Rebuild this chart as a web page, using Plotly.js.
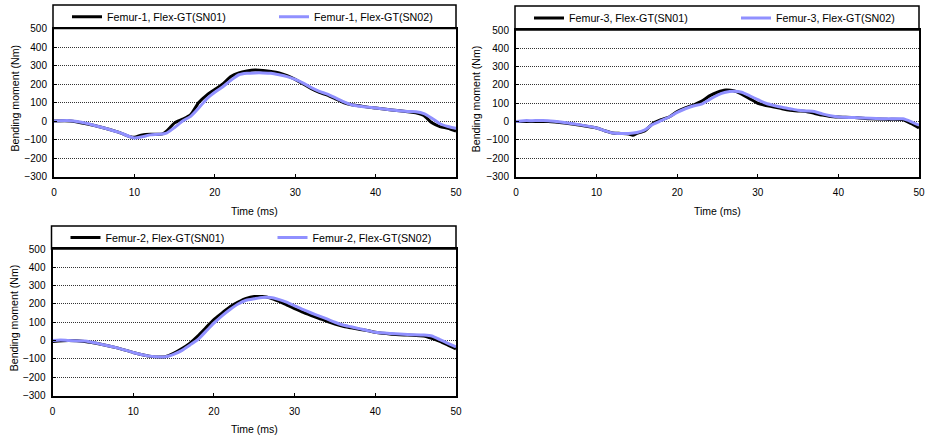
<!DOCTYPE html>
<html>
<head>
<meta charset="utf-8">
<script src="https://cdn.plot.ly/plotly-3.0.1.min.js"></script>
<style>html,body{margin:0;padding:0;background:#fff;}#chart{width:928px;height:435px;}</style>
</head>
<body>
<div id="chart"></div>
<script>
// Time (ms)
const timeF1a = [0,2,4,6,8,9.5,10,11,12,13,13.5,14,15,16,17,18,19,20,21,22,23,24,25,26,27,28,29,30,31,32,33,34,35,36,37,38,39,40,42,44,45,46,47,48,49,50];
const f1_sn01 = [0,0,-15,-35,-60,-85,-88,-75,-72,-72,-70,-55,-10,10,35,100,140,170,200,240,260,270,275,273,268,260,245,225,200,175,155,140,120,100,88,82,75,70,60,50,45,30,-10,-30,-40,-55];
const timeF1b = [0,2,4,6,8,10,11,12,13,14,15,16,17,18,19,20,21,22,23,24,25,26,27,28,29,30,31,32,33,34,35,36,37,38,39,40,42,44,45,46,47,48,49,50];
const f1_sn02 = [0,2,-12,-35,-60,-92,-85,-75,-72,-65,-35,0,25,70,120,155,185,220,250,258,260,260,258,250,240,225,205,180,160,145,125,105,88,80,75,70,60,52,50,40,15,-15,-30,-40];

const timeF3a = [0,2,4,6,8,10,11,12,13,14,14.5,15,16,17,18,19,20,21,22,23,24,25,26,27,28,29,30,31,32,33,34,35,36,37,38,39,40,42,44,46,48,49,50];
const f3_sn01 = [0,0,0,-8,-20,-35,-50,-62,-65,-68,-75,-65,-50,-10,10,25,55,75,90,110,140,160,172,168,150,125,100,88,80,70,62,58,55,45,35,28,25,22,15,12,10,-10,-35];
const timeF3b = [0,1,2,4,6,8,10,11,12,14,15,16,17,18,19,20,21,22,23,24,25,26,27,28,29,30,31,32,33,34,35,36,37,38,39,40,42,44,46,48,49,50];
const f3_sn02 = [0,5,5,5,-5,-18,-35,-50,-62,-65,-60,-45,-15,5,25,50,70,85,95,120,145,160,165,160,140,120,100,88,78,70,62,58,55,42,32,25,22,18,15,15,0,-20];

const timeF2a = [0,2,4,6,8,10,12,14,15,16,17,18,19,20,21,22,23,24,25,26,27,28,29,30,31,32,33,34,35,36,37,38,39,40,42,44,46,47,48,49,50];
const f2_sn01 = [-5,0,-5,-20,-40,-65,-85,-88,-70,-45,-15,25,70,115,150,185,210,230,240,240,232,215,195,175,155,138,122,105,90,78,70,62,55,45,35,30,25,12,-5,-25,-45];
const timeF2b = [0,1,2,4,6,8,10,12,14,15,16,17,18,19,20,21,22,23,24,25,26,27,28,29,30,31,32,33,34,35,36,37,38,39,40,42,44,46,47,48,49,50];
const f2_sn02 = [0,3,0,-3,-20,-40,-65,-85,-88,-75,-55,-25,5,50,95,135,170,200,220,228,235,235,225,210,190,170,152,135,118,100,85,75,65,55,45,38,33,30,25,5,-15,-35];

const names = {
  f1a: 'Femur-1, Flex-GT(SN01)', f1b: 'Femur-1, Flex-GT(SN02)',
  f3a: 'Femur-3, Flex-GT(SN01)', f3b: 'Femur-3, Flex-GT(SN02)',
  f2a: 'Femur-2, Flex-GT(SN01)', f2b: 'Femur-2, Flex-GT(SN02)'
};
const xTitle = 'Time (ms)';
const yTitle = 'Bending moment (Nm)';
const xTicks = [0,10,20,30,40,50];
const yTicks = [-300,-200,-100,0,100,200,300,400,500];

const BLACK = '#000000', BLUE = '#9090ff';
function tr(x, y, name, color, xa, ya, leg) {
  return {x: x, y: y, name: name, type: 'scatter', mode: 'lines',
    line: {color: color, width: 3, shape: 'spline', smoothing: 0.6},
    xaxis: xa, yaxis: ya, legend: leg, hoverinfo: 'skip'};
}
const data = [
  tr(timeF1a, f1_sn01, names.f1a, BLACK, 'x', 'y', 'legend'),
  tr(timeF1b, f1_sn02, names.f1b, BLUE, 'x', 'y', 'legend'),
  tr(timeF3a, f3_sn01, names.f3a, BLACK, 'x2', 'y2', 'legend2'),
  tr(timeF3b, f3_sn02, names.f3b, BLUE, 'x2', 'y2', 'legend2'),
  tr(timeF2a, f2_sn01, names.f2a, BLACK, 'x3', 'y3', 'legend3'),
  tr(timeF2b, f2_sn02, names.f2b, BLUE, 'x3', 'y3', 'legend3')
];

const W = 928, H = 435;
const fontFam = '"Liberation Sans", Arial, sans-serif';
// plot boxes in pixels: [left, right, top, bottom]
const boxes = [[54, 456, 28.5, 176.5], [516, 919, 30, 176.5], [52.5, 456, 249, 395.5]];
const legTop = [5, 6, 226];
const xTitleY = [211, 211, 429];
const yTitleX = [14, 476, 14];

function xax(b, anchor) {
  return {domain: [b[0]/W, b[1]/W], anchor: anchor, range: [0, 50], tickvals: xTicks, automargin: false,
    showgrid: false, zeroline: false, showline: true, linecolor: '#000', linewidth: 2, mirror: true,
    ticks: 'inside', ticklen: 3, tickcolor: '#000', ticklabelstandoff: 5,
    tickfont: {size: 10, color: '#000', family: fontFam}};
}
function yax(b, anchor) {
  return {domain: [1 - b[3]/H, 1 - b[2]/H], anchor: anchor, range: [-300, 500], tickvals: yTicks, automargin: false,
    showgrid: true, gridcolor: '#333', griddash: '1px,1px', gridwidth: 1, zeroline: false,
    showline: true, linecolor: '#000', linewidth: 2, mirror: true, ticks: 'inside', ticklen: 3, tickcolor: '#000',
    ticklabelstandoff: 3, tickfont: {size: 10, color: '#000', family: fontFam}};
}
function leg(b, top) {
  return {orientation: 'h', x: (b[0] + 13)/W, xanchor: 'left', y: 1 - (top + b[2]) / 2 / H, yanchor: 'middle',
    entrywidth: 162, entrywidthmode: 'pixels', bgcolor: 'rgba(0,0,0,0)', borderwidth: 0,
    font: {size: 10.7, color: '#000', family: fontFam}, itemclick: false, traceorder: 'normal'};
}
const shapes = boxes.map((b, i) => ({type: 'rect', xref: 'paper', yref: 'paper',
  x0: (b[0] - 1)/W, x1: b[1]/W, y0: 1 - b[2]/H, y1: 1 - legTop[i]/H,
  line: {color: '#000', width: 1.5}, fillcolor: 'rgba(0,0,0,0)', layer: 'above'}));

const annotations = [];
boxes.forEach((b, i) => {
  annotations.push({text: xTitle, xref: 'paper', yref: 'paper', x: (b[0] + b[1]) / 2 / W, y: 1 - xTitleY[i] / H,
    xanchor: 'center', yanchor: 'middle', showarrow: false, font: {size: 10.5, color: '#000', family: fontFam}});
  annotations.push({text: yTitle, xref: 'paper', yref: 'paper', x: yTitleX[i] / W, y: 1 - ((b[2] + b[3]) / 2 - 4) / H,
    xanchor: 'center', yanchor: 'middle', textangle: -90, showarrow: false, font: {size: 10.6, color: '#000', family: fontFam}});
});

const layout = {
  width: W, height: H, margin: {l: 0, r: 0, t: 0, b: 0, autoexpand: false},
  paper_bgcolor: '#fff', plot_bgcolor: '#fff', showlegend: true,
  font: {family: fontFam, size: 10, color: '#000'},
  xaxis: xax(boxes[0], 'y'), yaxis: yax(boxes[0], 'x'),
  xaxis2: xax(boxes[1], 'y2'), yaxis2: yax(boxes[1], 'x2'),
  xaxis3: xax(boxes[2], 'y3'), yaxis3: yax(boxes[2], 'x3'),
  legend: leg(boxes[0], legTop[0]), legend2: leg(boxes[1], legTop[1]), legend3: leg(boxes[2], legTop[2]),
  shapes: shapes, annotations: annotations
};
Plotly.newPlot('chart', data, layout, {displayModeBar: false, staticPlot: true});
</script>
</body>
</html>
